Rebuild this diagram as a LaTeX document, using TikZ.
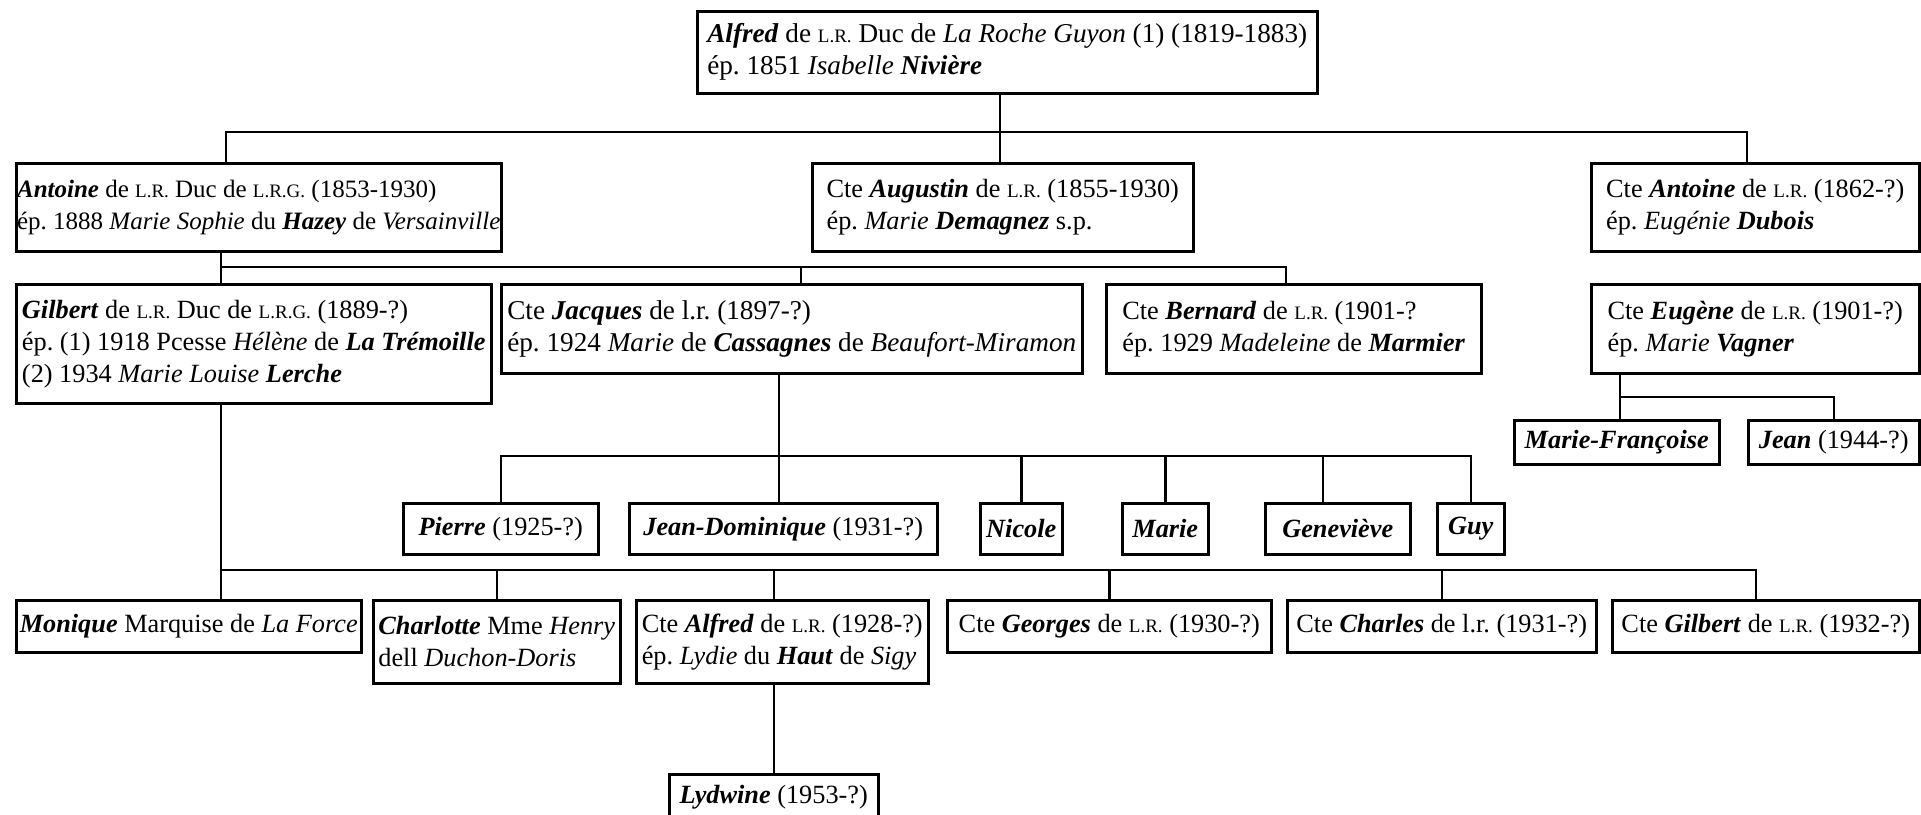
\documentclass[tikz,border=0pt]{standalone}
\usepackage{fontspec}
\setmainfont{Liberation Serif}
\usepackage{tikz}
\frenchspacing
\newcommand{\bi}[1]{\textit{\textbf{#1}}}
\newcommand{\petit}[1]{{\fontsize{19}{19}\selectfont #1}}
\tikzstyle{single} = [rectangle, draw=black, line width=2.5pt, anchor=north west,
inner xsep=4pt, inner ysep=0pt, align=center, font=\fontsize{26.3}{32}\selectfont]
\tikzstyle{couple} = [single, align=left]
\tikzstyle{link} = [line width=2.5pt]

\begin{document}
\begin{tikzpicture}[x=1pt, y=-1pt]
\useasboundingbox (0,0) rectangle (1921,814);
\node (1)[couple, font=\fontsize{27.2}{32}\selectfont, minimum width=620pt, minimum height=82pt] at (696,10){\bi{Alfred} de \petit{L.R.} Duc de \textit{La Roche Guyon} (1) (1819-1883)\\ép. 1851 \textit{Isabelle} \bi{Nivière}};
\node (2)[couple, font=\fontsize{25}{32}\selectfont, inner xsep=0pt, minimum width=485pt, minimum height=88pt] at (15,162){\bi{Antoine} de \petit{L.R.} Duc de \petit{L.R.G.} (1853-1930)\\ép. 1888 \textit{Marie Sophie} du \bi{Hazey} de \textit{Versainville}};
\node (3)[couple, minimum width=381pt, minimum height=88pt] at (811,162){Cte \bi{Augustin} de \petit{L.R.} (1855-1930)\\ép. \textit{Marie} \bi{Demagnez} s.p.};
\node (4)[couple, minimum width=328pt, minimum height=88pt] at (1590,162){Cte \bi{Antoine} de \petit{L.R.} (1862-?)\\ép. \textit{Eugénie} \bi{Dubois}};
\node (5)[couple, inner xsep=0pt, minimum width=475pt, minimum height=119pt] at (15,283){\bi{Gilbert} de \petit{L.R.} Duc de \petit{L.R.G.} (1889-?)\\ép. (1) 1918 Pcesse \textit{Hélène} de \bi{La Trémoille}\\(2) 1934 \textit{Marie Louise} \bi{Lerche}};
\node (6)[couple, font=\fontsize{27.2}{32}\selectfont, minimum width=581pt, minimum height=89pt] at (500,283){Cte \bi{Jacques} de l.r. (1897-?)\\ép. 1924 \textit{Marie} de \bi{Cassagnes} de \textit{Beaufort-Miramon}};
\node (7)[couple, minimum width=375pt, minimum height=89pt] at (1105,283){Cte \bi{Bernard} de \petit{L.R.} (1901-?\\ép. 1929 \textit{Madeleine} de \bi{Marmier}};
\node (8)[couple, minimum width=328pt, minimum height=89pt] at (1590,283){Cte \bi{Eugène} de \petit{L.R.} (1901-?)\\ép. \textit{Marie} \bi{Vagner}};
\node (9)[single, minimum width=205pt, minimum height=44pt] at (1513,419){\bi{Marie-Françoise}};
\node (10)[single, minimum width=171pt, minimum height=44pt] at (1747,419){\bi{Jean} (1944-?)};
\node (11)[single, minimum width=195pt, minimum height=51pt] at (402,502){\bi{Pierre} (1925-?)};
\node (12)[single, minimum width=308pt, minimum height=51pt] at (628,502){\bi{Jean-Dominique} (1931-?)};
\node (13)[single, minimum width=82pt, minimum height=51pt] at (979,502){\bi{Nicole}};
\node (14)[single, minimum width=86pt, minimum height=51pt] at (1121,502){\bi{Marie}};
\node (15)[single, minimum width=145pt, minimum height=51pt] at (1264,502){\bi{Geneviève}};
\node (16)[single, minimum width=67pt, minimum height=51pt] at (1436,502){\bi{Guy}};
\node (17)[single, inner xsep=0pt, minimum width=345pt, minimum height=52pt] at (15,599){\bi{Monique} Marquise de \textit{La Force}};
\node (18)[couple, minimum width=247pt, minimum height=83pt] at (372,599){\bi{Charlotte} Mme \textit{Henry}\\dell \textit{Duchon-Doris}};
\node (19)[couple, minimum width=292pt, minimum height=83pt] at (635,599){Cte \bi{Alfred} de \petit{L.R.} (1928-?)\\ép. \textit{Lydie} du \bi{Haut} de \textit{Sigy}};
\node (20)[single, minimum width=324pt, minimum height=52pt] at (946,599){Cte \bi{Georges} de \petit{L.R.} (1930-?)};
\node (21)[single, minimum width=309pt, minimum height=52pt] at (1286,599){Cte \bi{Charles} de l.r. (1931-?)};
\node (22)[single, minimum width=307pt, minimum height=52pt] at (1611,599){Cte \bi{Gilbert} de \petit{L.R.} (1932-?)};
\node (23)[single, minimum width=209pt, minimum height=45pt] at (668,773){\bi{Lydwine} (1953-?)};

\coordinate (a) at (1000,132);
\coordinate (b) at (221,267);
\coordinate (c) at (1620,397);
\coordinate (d) at (779,456);
\coordinate (e) at (221,570);

\draw [link](1.south -| a) -- (a) -- (3.north -| a);
\draw [link](a) -| ([xshift=211pt]2.north west);
\draw [link](a) -| ([xshift=157pt]4.north west);
\draw [link](2.south -| b) -- (b) -- (5.north -| b);
\draw [link](b) -| ([xshift=301pt]6.north west);
\draw [link](b) -| ([xshift=181pt]7.north west);
\draw [link](8.south -| c) -- (c) -- (9.north -| c);
\draw [link](c) -| (10.north);
\draw [link](6.south -| d) -- (d) -- (12.north -| d);
\draw [link](d) -| (11.north);
\draw [link](d) -| (13.north);
\draw [link](d) -| (14.north);
\draw [link](d) -| ([xshift=59pt]15.north west);
\draw [link](d) -| (16.north);
\draw [link](5.south -| e) -- (e) -- (17.north -| e);
\draw [link](e) -| (18.north);
\draw [link](e) -| (19.north -| 23.north);
\draw [link](e) -| (20.north);
\draw [link](e) -| (21.north);
\draw [link](e) -| ([xshift=145pt]22.north west);
\draw [link](19.south -| 23.north) -- (23.north);
\end{tikzpicture}
\end{document}
